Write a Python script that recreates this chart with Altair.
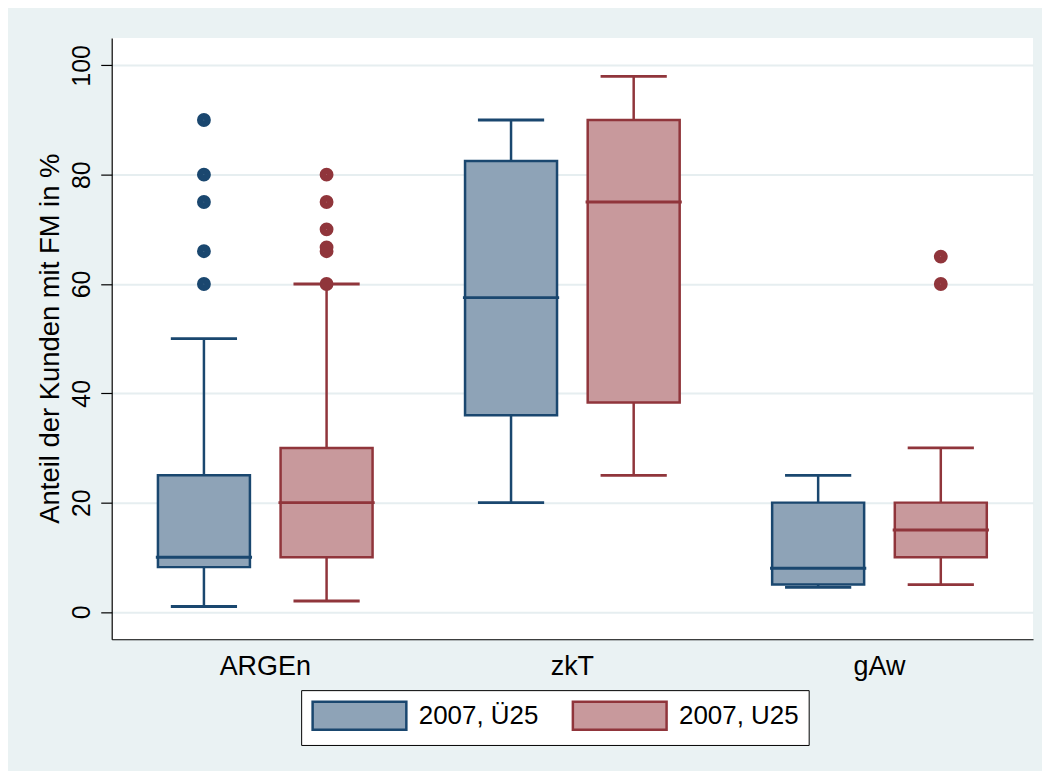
import altair as alt
import pandas as pd

FONT = "Liberation Sans, Arial, Helvetica, sans-serif"

categories = ["ARGEn", "zkT", "gAw"]
groups = ["2007, Ü25", "2007, U25"]

# per category, for each group
lower_a = [1, 20, 4.5]
q1_a = [8.2, 36, 5]
median_a = [10, 57.5, 8]
q3_a = [25, 82.5, 20]
upper_a = [50, 90, 25]

lower_b = [2, 25, 5]
q1_b = [10, 38.3, 10]
median_b = [20, 75, 15]
q3_b = [30, 90, 20]
upper_b = [60, 98, 30]

out_cat = ["ARGEn"] * 5 + ["ARGEn"] * 6 + ["gAw"] * 2
out_grp = [groups[0]] * 5 + [groups[1]] * 6 + [groups[1]] * 2
out_val = [60, 66, 75, 80, 90, 60, 66, 66.7, 70, 75, 80, 60, 65]

stroke_colors = ["#1A476F", "#90353B"]
fill_colors = ["#8EA3B7", "#C8999C"]

rows = []
for i, c in enumerate(categories):
    rows.append(dict(cat=c, grp=groups[0], lo=lower_a[i], q1=q1_a[i], med=median_a[i], q3=q3_a[i], hi=upper_a[i]))
    rows.append(dict(cat=c, grp=groups[1], lo=lower_b[i], q1=q1_b[i], med=median_b[i], q3=q3_b[i], hi=upper_b[i]))
stats = pd.DataFrame(rows)
outs = pd.DataFrame(dict(cat=out_cat, grp=out_grp, val=out_val))

x_enc = alt.X("cat:N", sort=categories,
              scale=alt.Scale(paddingInner=0, paddingOuter=0),
              axis=alt.Axis(title=None, ticks=False, tickSize=0, labelFontSize=27, labelPadding=35,
                            labelBaseline="alphabetic", labelAngle=0, labelColor="black",
                            domainColor="black", domainWidth=1.2, grid=False, labelFont=FONT))
xo_enc = alt.XOffset("grp:N", sort=groups,
                     scale=alt.Scale(paddingInner=0.25, paddingOuter=0.377))
y_scale = alt.Scale(domain=[-5, 105], nice=False, zero=False)
y_axis = alt.Axis(title="Anteil der Kunden mit FM in %", values=[0, 20, 40, 60, 80, 100],
                  labelFontSize=25, labelAngle=270, labelAlign="center", labelBaseline="alphabetic",
                  labelPadding=11, tickSize=11, tickColor="black", tickWidth=1.2,
                  domainColor="black", domainWidth=1.2, labelColor="black",
                  grid=True, gridColor="#E6EEF0", gridWidth=2,
                  titleFontSize=27.5, titleFontWeight="normal", titleColor="black",
                  titleAngle=270, titleAlign="center", titleBaseline="alphabetic",
                  titleX=-53, titleY=301, labelFont=FONT, titleFont=FONT)

stroke_scale = alt.Scale(domain=groups, range=stroke_colors)
fill_scale = alt.Scale(domain=groups, range=fill_colors)

# symbol: nominal size 28x28, path drawn 94 wide starting at the symbol's left edge
legend = alt.Legend(orient="none", legendX=190, legendY=654, direction="horizontal", title=None,
                    symbolType="M-1,-1L5.714,-1L5.714,1L-1,1Z", symbolSize=784,
                    symbolStrokeWidth=2.5, symbolOpacity=1, labelFontSize=26, labelFont=FONT,
                    labelColor="black", labelOffset=77, columnPadding=29, padding=10,
                    strokeColor="black", fillColor="white", cornerRadius=0, labelLimit=300)

base = alt.Chart(stats).encode(x=x_enc, xOffset=xo_enc)

def stroke_enc():
    return alt.Stroke("grp:N", scale=stroke_scale, legend=legend)

box = base.mark_bar(strokeWidth=2.5, opacity=1).encode(
    y=alt.Y("q1:Q", scale=y_scale, axis=y_axis), y2="q3:Q",
    fill=alt.Fill("grp:N", scale=fill_scale, legend=legend),
    stroke=stroke_enc())
whisk_lo = base.mark_rule(strokeWidth=2.5).encode(
    y=alt.Y("lo:Q"), y2="q1:Q", stroke=stroke_enc())
whisk_hi = base.mark_rule(strokeWidth=2.5).encode(
    y=alt.Y("q3:Q"), y2="hi:Q", stroke=stroke_enc())
med = base.mark_tick(thickness=0.4, size=94, filled=False, strokeWidth=2.5, opacity=1).encode(
    y=alt.Y("med:Q"), stroke=stroke_enc())
cap_lo = base.mark_tick(thickness=0.4, size=64, filled=False, strokeWidth=2.4, opacity=1).encode(
    y=alt.Y("lo:Q"), stroke=stroke_enc())
cap_hi = base.mark_tick(thickness=0.4, size=64, filled=False, strokeWidth=2.4, opacity=1).encode(
    y=alt.Y("hi:Q"), stroke=stroke_enc())
pts = alt.Chart(outs).mark_point(shape="circle", size=45, filled=False, strokeWidth=7.2, opacity=1).encode(
    x=x_enc, xOffset=xo_enc, y=alt.Y("val:Q"), stroke=stroke_enc())

chart = alt.layer(box, whisk_lo, whisk_hi, med, cap_lo, cap_hi, pts).properties(
    width=924, height=603, background="#EAF2F3",
    padding={"left": 104, "top": 29, "right": 9, "bottom": 131},
    autosize=alt.AutoSizeParams(type="none"),
).configure(font=FONT).configure_view(fill="white", stroke=None)

chart.save("out.html", embed_options={"renderer": "svg", "actions": False})
